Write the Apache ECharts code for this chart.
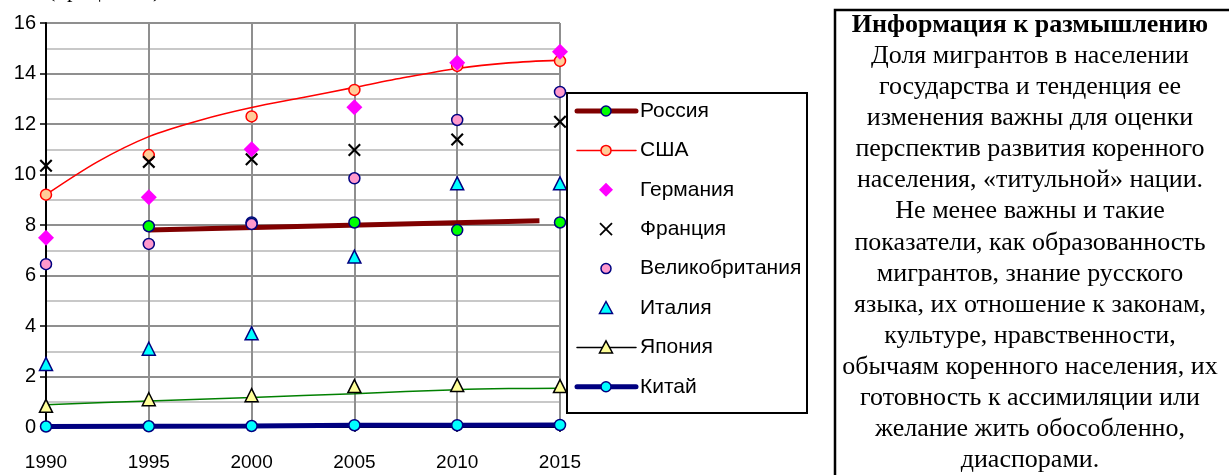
<!DOCTYPE html>
<html><head><meta charset="utf-8">
<script src="https://cdn.jsdelivr.net/npm/echarts@6/dist/echarts.min.js"></script>
<style>html,body{margin:0;padding:0;background:#fff}#c{width:1229px;height:475px}</style>
</head><body><div id="c"></div>
<script>
// ---- data ----
const years = [1990, 1995, 2000, 2005, 2010, 2015];
const yTicks = [0, 2, 4, 6, 8, 10, 12, 14, 16];
const russia  = [null, 7.95, 8.1, 8.1, 7.8, 8.1];
const usa     = [9.2, 10.77, 12.3, 13.35, 14.3, 14.5];
const germany = [7.5, 9.1, 11.0, 12.66, 14.43, 14.86];
const france  = [10.35, 10.5, 10.6, 10.97, 11.39, 12.09];
const uk      = [6.45, 7.25, 8.04, 9.85, 12.16, 13.27];
const italy   = [2.5, 3.1, 3.71, 6.75, 9.65, 9.65];
const japan   = [0.84, 1.1, 1.26, 1.62, 1.66, 1.62];
const china   = [0.02, 0.03, 0.04, 0.07, 0.07, 0.08];
// trend lines
const russiaTrendYears = [1995, 2014];
const russiaTrend = [7.8, 8.17];
const usaTrendYears = [1990, 1992.5, 1995, 1997.5, 2000, 2002.5, 2005, 2007.5, 2010, 2012.5, 2015];
const usaTrend      = [9.2, 10.5, 11.5, 12.15, 12.65, 13.05, 13.45, 13.85, 14.2, 14.42, 14.53];
const japanTrendYears = [1990, 1995, 2000, 2005, 2010, 2012.5, 2015];
const japanTrend      = [0.88, 1.03, 1.17, 1.32, 1.48, 1.52, 1.53];
const legendNames = ['Россия', 'США', 'Германия', 'Франция', 'Великобритания', 'Италия', 'Япония', 'Китай'];
const unitText = '(процентов)';
const infoTitle = 'Информация к размышлению';
const infoLines = [
  'Доля мигрантов в населении',
  'государства и тенденция ее',
  'изменения важны для оценки',
  'перспектив развития коренного',
  'населения, «титульной» нации.',
  'Не менее важны и такие',
  'показатели, как образованность',
  'мигрантов, знание русского',
  'языка, их отношение к законам,',
  'культуре, нравственности,',
  'обычаям коренного населения, их',
  'готовность к ассимиляции или',
  'желание жить обособленно,',
  'диаспорами.'
];

const pair = (xs, ys) => xs.map((x, i) => [x, ys[i]]).filter(p => p[1] != null);
const crossPath = 'path://M0,1.4L1.4,0L6,4.6L10.6,0L12,1.4L7.4,6L12,10.6L10.6,12L6,7.4L1.4,12L0,10.6L4.6,6Z';
const SANS = "'Liberation Sans', Arial, sans-serif";
const SERIF = "'Liberation Serif', 'Times New Roman', serif";

const styles = [
  {line: {color: '#800000', width: 5}, symbol: 'circle', size: 11, fill: '#00ff00', stroke: '#000080', sw: 1.5},
  {line: {color: '#ff0000', width: 1.5}, symbol: 'circle', size: 11, fill: '#ffcc99', stroke: '#ff0000', sw: 1.5},
  {line: null, symbol: 'diamond', size: 16, fill: '#ff00ff', stroke: '#ff00ff', sw: 0},
  {line: null, symbol: crossPath, size: 13, fill: '#000000', stroke: '#000000', sw: 0},
  {line: null, symbol: 'circle', size: 11, fill: '#ff99cc', stroke: '#000080', sw: 1.5},
  {line: null, symbol: 'triangle', size: 13, fill: '#00ffff', stroke: '#000080', sw: 1.5},
  {line: {color: '#000000', width: 1.5}, symbol: 'triangle', size: 13, fill: '#ffff99', stroke: '#000000', sw: 1.5},
  {line: {color: '#000080', width: 5}, symbol: 'circle', size: 11, fill: '#00ffff', stroke: '#000080', sw: 1.5}
];
const pointData = [russia, usa, germany, france, uk, italy, japan, china];

const series = [];
series.push({type: 'line', data: pair(russiaTrendYears, russiaTrend), symbol: 'none', silent: true,
  lineStyle: {color: '#800000', width: 5}, z: 3});
series.push({type: 'line', data: pair(usaTrendYears, usaTrend), symbol: 'none', smooth: 0.3, silent: true,
  lineStyle: {color: '#ff0000', width: 1.6}, z: 3});
series.push({type: 'line', data: pair(japanTrendYears, japanTrend), symbol: 'none', smooth: 0.3, silent: true,
  lineStyle: {color: '#008000', width: 1.5}, z: 3});
pointData.forEach((d, i) => {
  const s = styles[i];
  const isChina = i === 7;
  series.push({
    type: isChina ? 'line' : 'scatter',
    name: legendNames[i],
    data: pair(years, d),
    symbol: s.symbol, symbolSize: s.size,
    showSymbol: true,
    itemStyle: {color: s.fill, borderColor: s.stroke, borderWidth: s.sw, opacity: 1},
    lineStyle: isChina ? {color: '#000080', width: 5} : undefined,
    z: 4 + i
  });
});

// legend graphic
const LX = 567, LY = 93, LW = 240, LH = 320, L0 = 111, LS = 39.4;
const legendEls = [{type: 'rect', shape: {x: LX, y: LY, width: LW, height: LH},
  style: {fill: '#fff', stroke: '#000', lineWidth: 2}, z: 100}];
legendNames.forEach((n, i) => {
  const s = styles[i];
  const cy = L0 + LS * i;
  if (s.line) legendEls.push({type: 'line', shape: {x1: 577, y1: cy, x2: 636, y2: cy},
    style: {stroke: s.line.color, lineWidth: s.line.width, lineCap: 'round'}, z: 101});
  const r = s.size / 2;
  if (s.symbol === 'circle') legendEls.push({type: 'circle', shape: {cx: 606, cy: cy, r: r - 0.5},
    style: {fill: s.fill, stroke: s.stroke, lineWidth: s.sw}, z: 102});
  else if (s.symbol === 'diamond') legendEls.push({type: 'polygon', shape: {points: [[606, cy - 7], [613, cy], [606, cy + 7], [599, cy]]},
    style: {fill: s.fill}, z: 102});
  else if (s.symbol === 'triangle') legendEls.push({type: 'polygon', shape: {points: [[606, cy - 6.5], [612.5, cy + 5.5], [599.5, cy + 5.5]]},
    style: {fill: s.fill, stroke: s.stroke, lineWidth: s.sw}, z: 102});
  else {
    legendEls.push({type: 'line', shape: {x1: 600, y1: cy - 6, x2: 612, y2: cy + 6}, style: {stroke: '#000', lineWidth: 1.8}, z: 102});
    legendEls.push({type: 'line', shape: {x1: 612, y1: cy - 6, x2: 600, y2: cy + 6}, style: {stroke: '#000', lineWidth: 1.8}, z: 102});
  }
  legendEls.push({type: 'text', x: 640, y: cy, style: {text: n, font: '21px ' + SANS, fill: '#000', verticalAlign: 'middle'}, z: 102});
});

// info box
const IX = 835, IY = 10, ICX = 1030, IT0 = 25, ILS = 31.1;
const infoEls = [{type: 'rect', shape: {x: IX, y: IY, width: 420, height: 500},
  style: {fill: '#fff', stroke: '#000', lineWidth: 2.5}}];
infoEls.push({type: 'text', x: ICX, y: IT0, z: 1, style: {text: infoTitle, font: 'bold 26px ' + SERIF, fill: '#000', align: 'center', verticalAlign: 'middle'}});
infoLines.forEach((t, i) => infoEls.push({type: 'text', x: ICX, y: IT0 + ILS * (i + 1), z: 1,
  style: {text: t, font: '26px ' + SERIF, fill: '#000', align: 'center', verticalAlign: 'middle'}}));

const chart = echarts.init(document.getElementById('c'), null, {renderer: 'canvas'});
chart.setOption({
  animation: false,
  backgroundColor: '#fff',
  grid: {left: 46, right: 669, top: 23, bottom: 48, containLabel: false},
  xAxis: {
    type: 'value', min: years[0], max: years[years.length - 1], interval: 5,
    axisLine: {show: true, onZero: false, lineStyle: {color: '#000', width: 2}},
    axisTick: {show: true, inside: false, length: 5, lineStyle: {color: '#000', width: 1.5}},
    axisLabel: {color: '#000', fontSize: 19, fontFamily: SANS, margin: 26, formatter: v => String(v)},
    splitLine: {show: true, lineStyle: {color: '#8f8f8f', width: 2}}
  },
  yAxis: {
    type: 'value', min: yTicks[0], max: yTicks[yTicks.length - 1], interval: 2,
    axisLine: {show: true, lineStyle: {color: '#000', width: 2}},
    axisTick: {show: true, inside: false, length: 6, lineStyle: {color: '#000', width: 1.5}},
    axisLabel: {color: '#000', fontSize: 20, fontFamily: SANS, margin: 10},
    splitLine: {show: true, lineStyle: {color: '#8f8f8f', width: 2}},
    minorTick: {show: false, splitNumber: 2},
    minorSplitLine: {show: true, lineStyle: {color: '#c8c8c8', width: 2}}
  },
  series: series,
  graphic: [
    {type: 'text', x: 48, y: -9, style: {text: unitText, font: '22px ' + SERIF, fill: '#000', verticalAlign: 'middle'}},
    {type: 'group', children: legendEls},
    {type: 'group', children: infoEls}
  ]
});
</script></body></html>
